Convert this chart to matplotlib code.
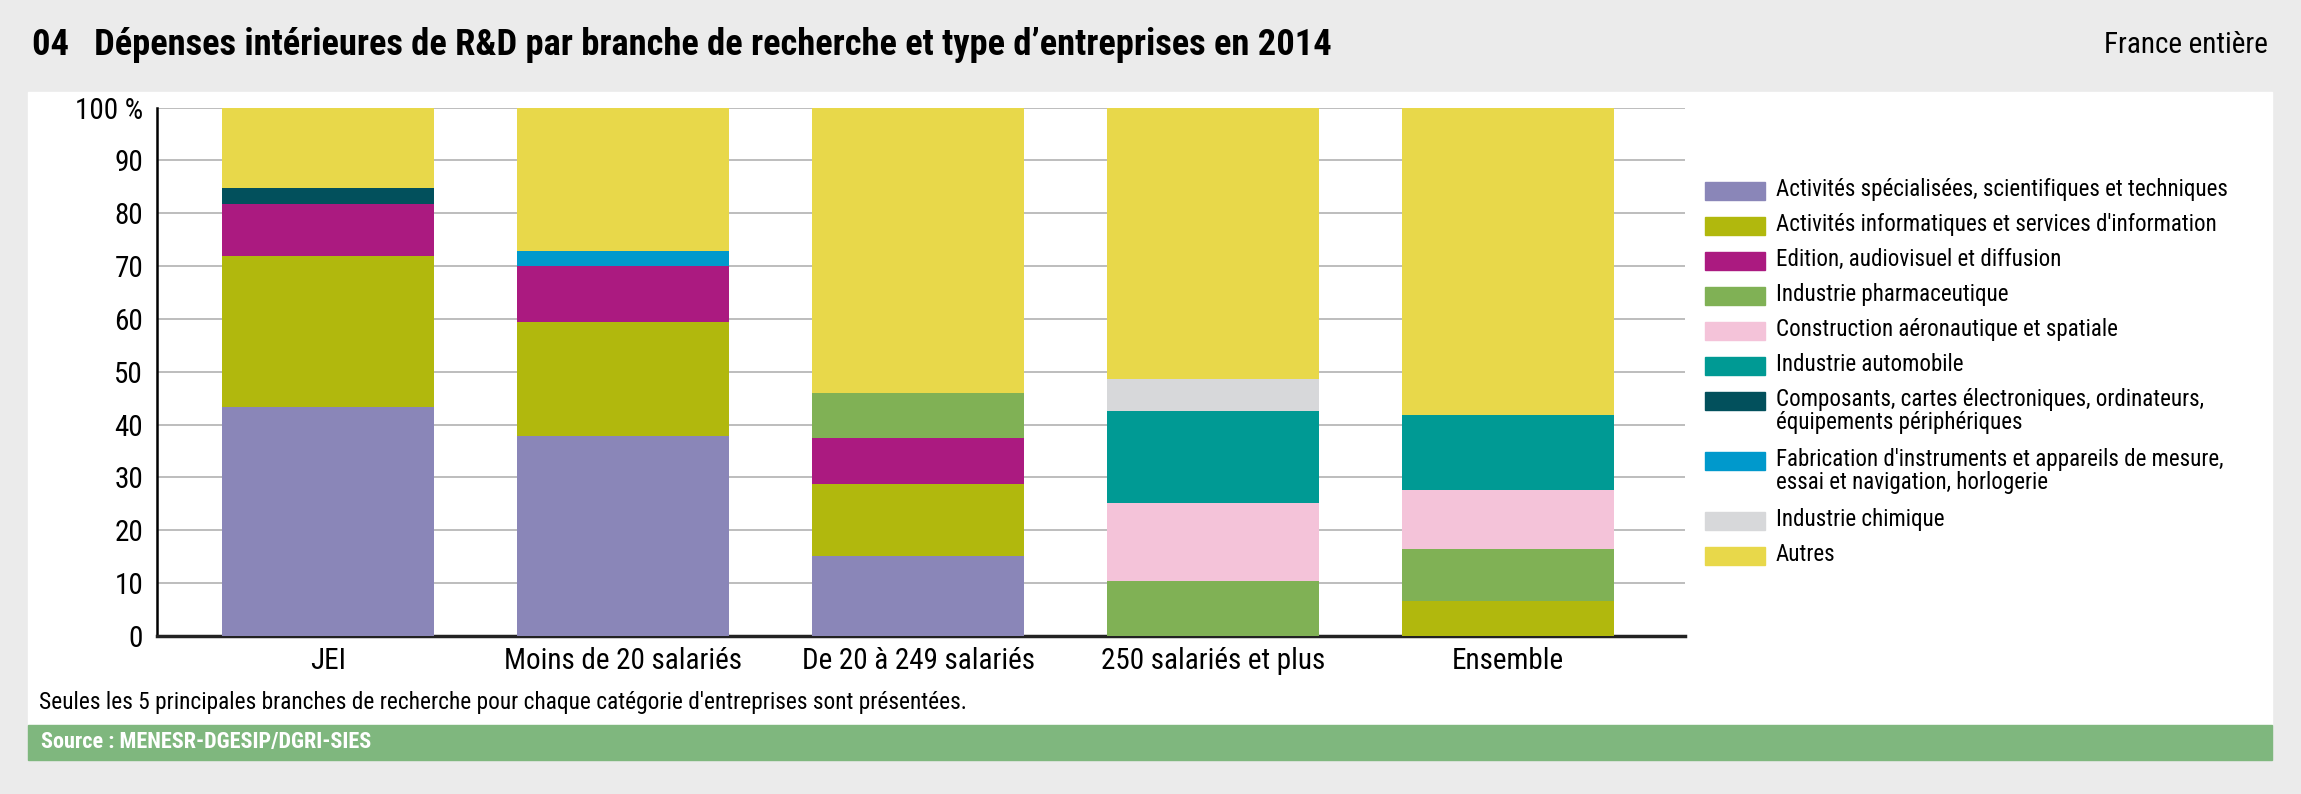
import numpy as np
import matplotlib.pyplot as plt
from matplotlib.patches import Rectangle

# data (% of DIRD per company type)
categories = ['JEI', 'Moins de 20 salariés', 'De 20 à 249 salariés', '250 salariés et plus', 'Ensemble']
activites_spec = [43.3, 37.9, 15.2, 0, 0]
informatique = [28.6, 21.6, 13.6, 0, 6.6]
edition = [9.9, 10.5, 8.6, 0, 0]
pharma = [0, 0, 8.5, 10.4, 9.8]
aero = [0, 0, 0, 14.7, 11.3]
auto = [0, 0, 0, 17.4, 14.1]
composants = [3.0, 0, 0, 0, 0]
instruments = [0, 2.8, 0, 0, 0]
chimie = [0, 0, 0, 6.2, 0]
autres = [15.2, 27.2, 54.1, 51.3, 58.2]

labels = ['Activités spécialisées, scientifiques et techniques',
          "Activités informatiques et services d'information",
          'Edition, audiovisuel et diffusion',
          'Industrie pharmaceutique',
          'Construction aéronautique et spatiale',
          'Industrie automobile',
          'Composants, cartes électroniques, ordinateurs,\néquipements périphériques',
          "Fabrication d'instruments et appareils de mesure,\nessai et navigation, horlogerie",
          'Industrie chimique',
          'Autres']
series = [activites_spec, informatique, edition, pharma, aero, auto,
          composants, instruments, chimie, autres]
colors = ['#8a86b8', '#b1b80d', '#ab1a80', '#80b155', '#f4c3d9',
          '#009a94', '#02505c', '#0099cc', '#d7d8da', '#e8d84a']

plt.rcParams['font.family'] = ['Roboto Condensed', 'Liberation Sans', 'DejaVu Sans']

W, H = 2301, 794
fig = plt.figure(figsize=(W / 100, H / 100), dpi=100, facecolor='#ebebeb')

# white panel and green source band
fig.patches.append(Rectangle((28 / W, 1 - 725 / H), 2244 / W, 633 / H,
                             transform=fig.transFigure, color='white', zorder=-5))
fig.patches.append(Rectangle((28 / W, 1 - 760 / H), 2244 / W, 35 / H,
                             transform=fig.transFigure, color='#7fb77e', zorder=-5))

ax = fig.add_axes([157 / W, 1 - 636 / H, (1685 - 157) / W, (636 - 107.6) / H])
ax.set_facecolor('none')
ax.set_zorder(2)

x = np.arange(len(categories))
bottom = np.zeros(len(categories))
for vals, col in zip(series, colors):
    ax.bar(x, vals, width=0.72, bottom=bottom, color=col, zorder=3)
    bottom += np.array(vals)

ax.set_xlim(-0.58, 4.6)
ax.set_ylim(0, 100)
ax.set_yticks(range(0, 101, 10))
ax.set_yticklabels([str(v) for v in range(0, 100, 10)] + ['100 %'])
ax.set_xticks(x)
ax.set_xticklabels(categories)
ax.tick_params(axis='y', length=0, pad=10, labelsize=21)
ax.tick_params(axis='x', length=0, pad=8, labelsize=21)
ax.yaxis.grid(True, color='#bdbdbd', lw=1.4, zorder=1)
ax.set_axisbelow(True)
for s in ['top', 'right']:
    ax.spines[s].set_visible(False)
ax.spines['left'].set_linewidth(1.8)
ax.spines['bottom'].set_linewidth(2.5)
ax.spines['bottom'].set_color('#222222')

# legend drawn by hand so squares line up with first line of text
y = 191
for lab, col in zip(labels, colors):
    fig.patches.append(Rectangle((1705 / W, 1 - (y + 9) / H), 60 / W, 18 / H,
                                 transform=fig.transFigure, color=col, zorder=2))
    fig.text(1776 / W, 1 - (y - 13) / H, lab, fontsize=16.6, va='top', ha='left',
             linespacing=1.02)
    y += 35 + 25 * lab.count('\n')

fig.text(32 / W, 1 - 45 / H, '04   Dépenses intérieures de R&D par branche de recherche et type d’entreprises en 2014',
         fontsize=26.3, fontweight='bold', va='center', ha='left')
fig.text(2268 / W, 1 - 45 / H, 'France entière', fontsize=21, va='center', ha='right')
fig.text(39 / W, 1 - 703 / H, "Seules les 5 principales branches de recherche pour chaque catégorie d'entreprises sont présentées.",
         fontsize=16.8, va='center', ha='left')
fig.text(41 / W, 1 - 742 / H, 'Source : MENESR-DGESIP/DGRI-SIES', fontsize=16,
         fontweight='bold', color='white', va='center', ha='left')

fig.savefig('out.png', dpi=100, facecolor=fig.get_facecolor())
